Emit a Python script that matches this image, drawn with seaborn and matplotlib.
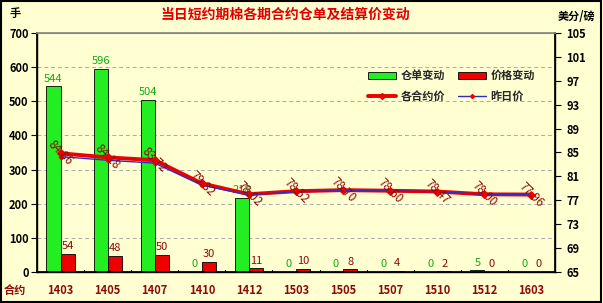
import matplotlib
matplotlib.use('Agg')
import matplotlib.pyplot as plt
import matplotlib.patches as mpatches
from matplotlib.lines import Line2D
import seaborn as sns
import pandas as pd
import numpy as np

contracts = ['1403', '1405', '1407', '1410', '1412', '1503', '1505', '1507', '1510', '1512', '1603']
receipt_change = [544, 596, 504, 0, 218, 0, 0, 0, 0, 5, 0]
price_change = [54, 48, 50, 30, 11, 10, 8, 4, 2, 0, 0]
settle_price = [84.86, 84.18, 83.72, 79.82, 78.02, 78.52, 78.70, 78.60, 78.47, 78.00, 77.96]
prev_price = [84.32, 83.70, 83.22, 79.52, 77.91, 78.42, 78.62, 78.56, 78.45, 78.00, 77.96]
left_ticks = [0, 100, 200, 300, 400, 500, 600, 700]
right_ticks = [65, 69, 73, 77, 81, 85, 89, 93, 97, 101, 105]
title = '当日短约期棉各期合约仓单及结算价变动'

sns.set_theme(style='white')
plt.rcParams['font.family'] = ['Noto Sans CJK SC', 'DejaVu Sans']
plt.rcParams['axes.unicode_minus'] = False

BG = '#FFFFD2'
DARKRED = '#8B0A0A'
fig = plt.figure(figsize=(6.03, 3.03), dpi=100, facecolor=BG)
ax1 = fig.add_axes([37/603, 31/303, (555-37)/603, (272-33)/303])
ax1.set_facecolor(BG)

df = pd.DataFrame({
    'contract': contracts * 2,
    'series': ['仓单变动'] * len(contracts) + ['价格变动'] * len(contracts),
    'value': receipt_change + price_change,
})
sns.barplot(data=df, x='contract', y='value', hue='series', order=contracts,
            hue_order=['仓单变动', '价格变动'],
            palette={'仓单变动': '#22EE22', '价格变动': '#EE0000'},
            width=0.6, saturation=1, edgecolor='black', linewidth=0.6,
            legend=False, ax=ax1)
ax1.set_ylim(0, 700)
ax1.set_xlim(-0.5, len(contracts) - 0.5)
ax1.set_yticks(left_ticks)
ax1.set_yticklabels([str(t) for t in left_ticks], fontsize=8, fontweight='bold', color='black')
ax1.set_xticks(range(len(contracts)))
ax1.set_xticklabels(contracts, fontsize=8, fontweight='bold', color=DARKRED)
ax1.set_xlabel('')
ax1.set_ylabel('')
ax1.yaxis.grid(True, linestyle=(0, (4, 3)), color='#AAAAAA', linewidth=0.7)
ax1.set_axisbelow(True)
ax1.tick_params(axis='x', length=0, pad=9)
ax1.tick_params(axis='y', length=4, width=0.8, color='black', direction='out', left=True, pad=2)
for b in np.arange(0.5, len(contracts) - 0.5, 1):
    ax1.plot([b, b], [0, 7], color='black', lw=0.8, clip_on=False)
for s in ['left', 'bottom', 'right']:
    ax1.spines[s].set_color('black')
    ax1.spines[s].set_linewidth(1.0)
ax1.spines['top'].set_color('#888888')
ax1.spines['top'].set_linewidth(0.8)

# bar value labels
for i, v in enumerate(receipt_change):
    ax1.text(i - 0.15, v + 8, str(v), ha='center', va='bottom', fontsize=8, color='#11AA11')
for i, v in enumerate(price_change):
    ax1.text(i + 0.15, v + 8, str(v), ha='center', va='bottom', fontsize=8, color=DARKRED)

ax2 = ax1.twinx()
x = np.arange(len(contracts))
sns.lineplot(x=x, y=settle_price, color='#EE0000', linewidth=2.8, marker='D',
             markersize=4, markeredgecolor='#EE0000', ax=ax2, zorder=3)
sns.lineplot(x=x, y=prev_price, color='#3030C0', linewidth=1.0, marker='D',
             markersize=2.5, markerfacecolor='#EE0000', markeredgecolor='#EE0000', ax=ax2, zorder=4)
ax2.set_ylim(65, 105)
ax2.set_yticks(right_ticks)
ax2.set_yticklabels([str(t) for t in right_ticks], fontsize=8, fontweight='bold', color='black')
ax2.tick_params(axis='y', length=4, width=0.8, color='black', direction='out', right=True, pad=4)
ax2.set_xlim(-0.5, len(contracts) - 0.5)
ax2.set_xlabel('')
ax2.set_ylabel('')
for s in ['left', 'bottom', 'right']:
    ax2.spines[s].set_color('black')
ax2.spines['top'].set_color('#888888')
for i, p in enumerate(settle_price):
    ax2.text(i, p, f'{p:.2f}', rotation=-45, ha='center', va='center',
             fontsize=8.5, color=DARKRED, rotation_mode='anchor', zorder=5)

h_green = mpatches.Patch(facecolor='#22EE22', edgecolor='black', linewidth=0.6, label='仓单变动')
h_red = mpatches.Patch(facecolor='#EE0000', edgecolor='black', linewidth=0.6, label='价格变动')
h_settle = Line2D([0], [0], color='#EE0000', lw=2.8, marker='D', markersize=3, label='各合约价')
h_prev = Line2D([0], [0], color='#3030C0', lw=1.0, marker='D', markersize=2, markerfacecolor='#EE0000',
                markeredgecolor='#EE0000', label='昨日价')
leg = ax2.legend(handles=[h_green, h_settle, h_red, h_prev], ncol=2, loc='upper left',
                 bbox_to_anchor=(0.62, 0.89),
                 frameon=False, prop={'size': 8, 'weight': 'bold'}, handlelength=2.5,
                 columnspacing=1.2, handletextpad=0.4, labelspacing=0.7)

fig.text(285/603, 1 - 15/303, title, ha='center', va='center', fontsize=10,
         fontweight='bold', color='#E00000')
fig.text(10/603, 1 - 14/303, '手', ha='left', va='center', fontsize=8, fontweight='bold', color='black')
fig.text(595/603, 1 - 16/303, '美分/磅', ha='right', va='center', fontsize=8, fontweight='bold', color='black')
fig.text(15/603, 1 - 290/303, '合约', ha='center', va='center', fontsize=8, fontweight='bold', color=DARKRED)
fig.patches.append(mpatches.Rectangle((0.002, 0.004), 0.995, 0.992, transform=fig.transFigure,
                                      fill=False, edgecolor='black', linewidth=1.5))

fig.savefig('out.png', dpi=100, facecolor=BG)
